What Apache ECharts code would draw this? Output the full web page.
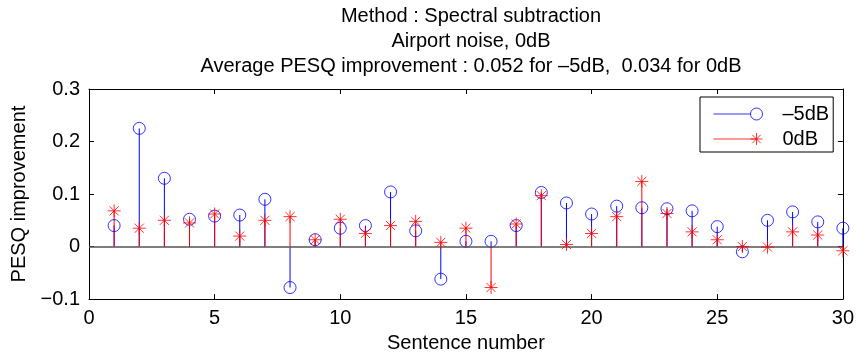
<!DOCTYPE html>
<html><head><meta charset="utf-8">
<script src="https://cdn.jsdelivr.net/npm/echarts@6/dist/echarts.min.js"></script>
<style>html,body{margin:0;padding:0;background:#fff}#c{width:857px;height:358px}</style>
</head><body><div id="c"></div>
<script>
const sentences = [1,2,3,4,5,6,7,8,9,10,11,12,13,14,15,16,17,18,19,20,21,22,23,24,25,26,27,28,29,30];
const minus5dB = [0.040,0.225,0.130,0.052,0.058,0.060,0.090,-0.078,0.013,0.035,0.040,0.104,0.030,-0.062,0.010,0.010,0.040,0.103,0.083,0.062,0.077,0.074,0.072,0.068,0.038,-0.010,0.050,0.066,0.047,0.035];
const zero0dB = [0.068,0.035,0.050,0.045,0.062,0.020,0.050,0.057,0.013,0.052,0.025,0.040,0.048,0.008,0.035,-0.078,0.043,0.097,0.004,0.025,0.057,0.124,0.063,0.028,0.013,0.000,-0.001,0.028,0.022,-0.008];
const xTicks = [0,5,10,15,20,25,30];
const yTicks = [-0.1,0,0.1,0.2,0.3];
const seriesNames = ['\u20135dB','0dB'];
const titleLines = ['Method : Spectral subtraction','Airport noise, 0dB','Average PESQ improvement : 0.052 for \u20135dB,  0.034 for 0dB'];

const FONT = '"Liberation Sans", Arial, Helvetica, sans-serif';
const FS = 20;
const BLUE = '#0000ff', RED = '#ff0000';
const ASTER = 'path://M5 0L5 10M0 5L10 5M1.5 1.5L8.5 8.5M1.5 8.5L8.5 1.5';
const LEG_CIRCLE = 'path://M0 6L37 6M49 6A6 6 0 1 1 37 6A6 6 0 1 1 49 6';
const LEG_ASTER = 'path://M0 6L43 6M43 0L43 12M37 6L49 6M38.8 1.8L47.2 10.2M38.8 10.2L47.2 1.8';

function pairs(vals){ return sentences.map((s,i)=>[s, vals[i]]); }
function stem(color){
  return function(params, api){
    const x = api.value(0), y = api.value(1);
    const p0 = api.coord([x,0]), p1 = api.coord([x,y]);
    return {type:'line', shape:{x1:p0[0],y1:p0[1],x2:p1[0],y2:p1[1]}, style:{stroke:color,lineWidth:1}};
  };
}
const chart = echarts.init(document.getElementById('c'), null, {renderer:'canvas'});
const fmtY = v => (Math.round(v*10)/10).toString().replace('-','\u2212');
chart.setOption({
  animation:false,
  backgroundColor:'#fff',
  textStyle:{fontFamily:FONT},
  title:{
    text: titleLines.join('\n'),
    left: 466, top: -1, textAlign:'center',
    textStyle:{fontFamily:FONT,fontSize:FS,fontWeight:'normal',color:'#000',lineHeight:25}
  },
  grid:{left:89,right:13,top:89,bottom:56,containLabel:false},
  legend:{
    left:700, top:97, orient:'vertical',
    data:[
      {name:seriesNames[0], icon:LEG_CIRCLE, itemStyle:{color:'transparent',borderColor:BLUE,borderWidth:1}},
      {name:seriesNames[1], icon:LEG_ASTER, itemStyle:{color:'transparent',borderColor:RED,borderWidth:1}}
    ],
    itemWidth:49, itemHeight:12, itemGap:5,
    padding:[7,4,3,13],
    borderColor:'#000', borderWidth:1, backgroundColor:'#fff',
    textStyle:{fontFamily:FONT,fontSize:FS,color:'#000',padding:[0,0,0,15]}
  },
  xAxis:[{
    type:'value', min:0, max:30, interval:5,
    name:'Sentence number', nameLocation:'middle', nameGap:29,
    nameTextStyle:{fontFamily:FONT,fontSize:FS,color:'#000'},
    axisLine:{onZero:false,lineStyle:{color:'#000',width:1}},
    axisTick:{inside:true,length:5,lineStyle:{color:'#000'}},
    axisLabel:{fontFamily:FONT,fontSize:FS,color:'#000',margin:9},
    splitLine:{show:false}
  },{
    type:'value', min:0, max:30, interval:5, position:'top',
    axisLine:{onZero:false,lineStyle:{color:'#000',width:1}},
    axisTick:{inside:true,length:5,lineStyle:{color:'#000'}},
    axisLabel:{show:false}, splitLine:{show:false}
  }],
  yAxis:[{
    type:'value', min:-0.1, max:0.3, interval:0.1,
    name:'PESQ improvement', nameLocation:'middle', nameGap:58,
    nameTextStyle:{fontFamily:FONT,fontSize:FS,color:'#000'},
    axisLine:{show:true,onZero:false,lineStyle:{color:'#000',width:1}},
    axisTick:{show:true,inside:true,length:5,lineStyle:{color:'#000'}},
    axisLabel:{fontFamily:FONT,fontSize:FS,color:'#000',margin:9,formatter:fmtY},
    splitLine:{show:false}
  },{
    type:'value', min:-0.1, max:0.3, interval:0.1, position:'right',
    axisLine:{show:true,onZero:false,lineStyle:{color:'#000',width:1}},
    axisTick:{show:true,inside:true,length:5,lineStyle:{color:'#000'}},
    axisLabel:{show:false}, splitLine:{show:false}
  }],
  series:[
    {name:'stem5', type:'custom', renderItem:stem(BLUE), data:pairs(minus5dB), z:2,
     markLine:{silent:true,symbol:'none',label:{show:false},lineStyle:{color:'#555',width:1.5,type:'solid'},data:[{yAxis:0}]}},
    {name:'stem0', type:'custom', renderItem:stem(RED), data:pairs(zero0dB), z:3},
    {name:seriesNames[0], type:'scatter', data:pairs(minus5dB), symbol:'circle', symbolSize:12,
     itemStyle:{color:'transparent',borderColor:BLUE,borderWidth:1}, z:4},
    {name:seriesNames[1], type:'scatter', data:pairs(zero0dB), symbol:ASTER, symbolSize:13,
     itemStyle:{color:'transparent',borderColor:RED,borderWidth:1}, z:5}
  ]
});
</script></body></html>
